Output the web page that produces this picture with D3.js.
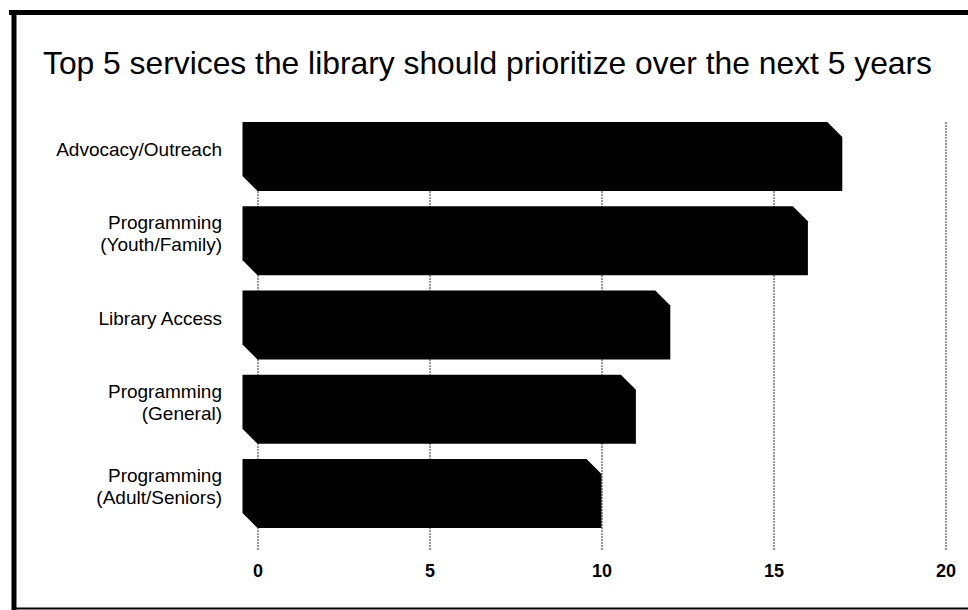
<!DOCTYPE html>
<html>
<head>
<meta charset="utf-8">
<script src="https://cdn.jsdelivr.net/npm/d3@7"></script>
<style>
  body { margin: 0; background: #ffffff; }
  svg { display: block; font-family: "Liberation Sans", Arial, sans-serif; }
</style>
</head>
<body>
<div id="chart"></div>
<script>
// chart data
var categories = ["Advocacy/Outreach", "Programming\n(Youth/Family)", "Library Access", "Programming\n(General)", "Programming\n(Adult/Seniors)"];
var values = [17, 16, 12, 11, 10];
var tickValues = [0, 5, 10, 15, 20];
var title = "Top 5 services the library should prioritize over the next 5 years";

var svg_width = 968;
var svg_height = 610;
var depth = 15; // offset of the fake 3d face

var svg = d3.select("#chart")
            .append("svg")
            .attr("width", svg_width)
            .attr("height", svg_height);

// frame of the scanned page
svg.append("line").attr("x1", 9).attr("x2", 968).attr("y1", 12.5).attr("y2", 12.5)
   .style("stroke", "#000").style("stroke-width", 5);
svg.append("line").attr("x1", 14).attr("x2", 14).attr("y1", 10).attr("y2", 610)
   .style("stroke", "#000").style("stroke-width", 5);
svg.append("line").attr("x1", 16).attr("x2", 968).attr("y1", 608.5).attr("y2", 608.5)
   .style("stroke", "#000").style("stroke-width", 2);

// title
svg.append("text")
   .attr("x", 43)
   .attr("y", 74)
   .attr("textLength", 889)
   .attr("lengthAdjust", "spacingAndGlyphs")
   .style("font-size", "31.5px")
   .style("fill", "#000")
   .text(title);

// scales
var x = d3.scaleLinear()
          .domain([0, 20])
          .range([257.5, 945.5]);

var y = d3.scaleBand()
          .domain(categories)
          .range([122, 528])
          .paddingInner(0.18);

// dotted gridlines, drawn behind the bars
var xGrid = d3.axisBottom(x)
              .tickValues(tickValues)
              .tickSize(550 - 122)
              .tickFormat("");

var grid = svg.append("g")
   .attr("class", "x grid")
   .attr("transform", "translate(0,122)")
   .call(xGrid);
grid.select(".domain").remove();
grid.selectAll("line")
    .style("stroke", "#333")
    .style("stroke-width", 1)
    .style("stroke-dasharray", "2,1");

// bars with chamfered corners
svg.append("g")
   .attr("class", "bars")
   .selectAll("path")
   .data(categories)
   .enter()
   .append("path")
   .attr("d", function(d, i) {
     var x0 = x(0), x1 = x(values[i]);
     var t = y(d), b = y(d) + y.bandwidth();
     return "M" + (x0 - depth) + "," + t +
            "L" + (x1 - depth) + "," + t +
            "L" + x1 + "," + (t + depth) +
            "L" + x1 + "," + b +
            "L" + x0 + "," + b +
            "L" + (x0 - depth) + "," + (b - depth) + "Z";
   })
   .style("fill", "#000");

// category labels, centred on the back face
var lineH = 22;
svg.append("g")
   .attr("class", "y labels")
   .selectAll("text")
   .data(categories)
   .enter()
   .append("text")
   .attr("x", 222)
   .attr("text-anchor", "end")
   .style("font-size", "19px")
   .style("fill", "#000")
   .each(function(d) {
     var lines = d.split("\n");
     var cy = y(d) + (y.bandwidth() - depth) / 2;
     var first = cy - (lines.length - 1) * lineH / 2 + 7;
     var sel = d3.select(this);
     lines.forEach(function(l, j) {
       sel.append("tspan").attr("x", 222).attr("y", first + j * lineH).text(l);
     });
   });

// x axis labels
var xAxis = d3.axisBottom(x)
              .tickValues(tickValues)
              .tickSize(0)
              .tickPadding(0);

var ax = svg.append("g")
   .attr("class", "x axis")
   .attr("transform", "translate(0,577)")
   .call(xAxis);
ax.select(".domain").remove();
ax.selectAll("text")
  .attr("dy", 0)
  .style("font-size", "18px")
  .style("font-weight", "bold")
  .style("font-family", "'Liberation Sans', Arial, sans-serif")
  .style("fill", "#000");
</script>
</body>
</html>
